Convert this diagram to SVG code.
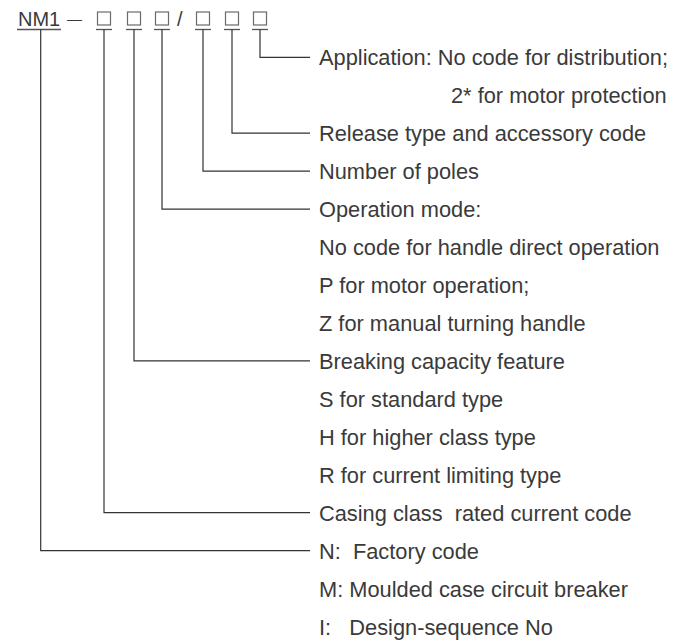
<svg xmlns="http://www.w3.org/2000/svg" width="680" height="644" viewBox="0 0 680 644">
<style>
text{font-family:"Liberation Sans",Arial,Helvetica,sans-serif;fill:#3a3a3a;white-space:pre;}
.lbl{font-size:21.8px;}
.hdr{font-size:20px;}
.box{fill:none;stroke:#6a6a6a;stroke-width:1.2;}
.ul{stroke:#555;stroke-width:1.3;}
.conn{fill:none;stroke:#333;stroke-width:1.2;}
</style>
<rect width="680" height="644" fill="#fff"/>
<g id="header">
  <text class="hdr" x="18" y="26">NM1</text>
  <line class="ul" x1="17" y1="29.5" x2="61" y2="29.5"/>
  <text x="67" y="27" style="font-size:15px" textLength="15" lengthAdjust="spacingAndGlyphs" transform="translate(0,-3)">—</text>
  <text x="177" y="26" style="font-size:20px">/</text>
</g>
<g id="code-boxes">
  <g id="box1"><rect class="box" x="97.5" y="12" width="13" height="13"/><line class="ul" x1="96" y1="29.5" x2="112" y2="29.5"/></g>
  <g id="box2"><rect class="box" x="127.5" y="12" width="13" height="13"/><line class="ul" x1="126" y1="29.5" x2="142" y2="29.5"/></g>
  <g id="box3"><rect class="box" x="155.5" y="12" width="13" height="13"/><line class="ul" x1="154" y1="29.5" x2="170" y2="29.5"/></g>
  <g id="box4"><rect class="box" x="196.5" y="12" width="13" height="13"/><line class="ul" x1="195" y1="29.5" x2="211" y2="29.5"/></g>
  <g id="box5"><rect class="box" x="225.5" y="12" width="13" height="13"/><line class="ul" x1="224" y1="29.5" x2="240" y2="29.5"/></g>
  <g id="box6"><rect class="box" x="253.5" y="12" width="13" height="13"/><line class="ul" x1="252" y1="29.5" x2="268" y2="29.5"/></g>
</g>
<g id="connectors">
  <polyline class="conn" points="260,29.5 260,57.3 310,57.3"/>
  <polyline class="conn" points="232,29.5 232,133.2 310,133.2"/>
  <polyline class="conn" points="203,29.5 203,171.2 310,171.2"/>
  <polyline class="conn" points="162,29.5 162,209.1 310,209.1"/>
  <polyline class="conn" points="134,29.5 134,360.9 310,360.9"/>
  <polyline class="conn" points="104,29.5 104,512.7 310,512.7"/>
  <polyline class="conn" points="40.7,29.5 40.7,550.7 310,550.7"/>
</g>
<g id="labels">
  <text class="lbl" x="319" y="65.3">Application: No code for distribution;</text>
  <text class="lbl" x="451" y="103.2">2* for motor protection</text>
  <text class="lbl" x="319" y="141.2">Release type and accessory code</text>
  <text class="lbl" x="319" y="179.2">Number of poles</text>
  <text class="lbl" x="319" y="217.1">Operation mode:</text>
  <text class="lbl" x="319" y="255.1">No code for handle direct operation</text>
  <text class="lbl" x="319" y="293">P for motor operation;</text>
  <text class="lbl" x="319" y="331">Z for manual turning handle</text>
  <text class="lbl" x="319" y="368.9">Breaking capacity feature</text>
  <text class="lbl" x="319" y="406.9">S for standard type</text>
  <text class="lbl" x="319" y="444.8">H for higher class type</text>
  <text class="lbl" x="319" y="482.8">R for current limiting type</text>
  <text class="lbl" x="319" y="520.7">Casing class  rated current code</text>
  <text class="lbl" x="319" y="558.7">N:  Factory code</text>
  <text class="lbl" x="319" y="596.6">M: Moulded case circuit breaker</text>
  <text class="lbl" x="319" y="634.6">I:   Design-sequence No</text>
</g>
</svg>
